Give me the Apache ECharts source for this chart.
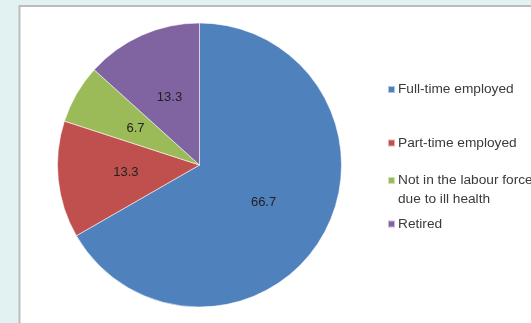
<!DOCTYPE html>
<html>
<head>
<meta charset="utf-8">
<script src="https://cdn.jsdelivr.net/npm/echarts@6/dist/echarts.min.js"></script>
<style>
  html, body { margin: 0; padding: 0; background: #e2f1f2; }
  #chart { width: 531px; height: 323px; }
</style>
</head>
<body>
<div id="chart"></div>
<script>
// Employment status breakdown (percent)
const categories = [
  'Full-time employed',
  'Part-time employed',
  'Not in the labour force due to ill health',
  'Retired'
];
const values = [66.7, 13.3, 6.7, 13.3];
const colors = ['#4f81bd', '#c0504d', '#9bbb59', '#8064a2'];

const FONT = '"Liberation Sans", Arial, sans-serif';
const chart = echarts.init(document.getElementById('chart'), null, { renderer: 'canvas' });

// One legend block per entry so each row sits at its own height.
// The wrapped entry gets a leading blank line so its marker lines up
// with the first line of text rather than the middle of the block.
const legendRows = [
  { top: 82.5, lineHeight: 14 },
  { top: 136, lineHeight: 14 },
  { top: 152, lineHeight: 19, wrap: true },
  { top: 217, lineHeight: 14 }
];
const legends = categories.map((name, i) => {
  const row = legendRows[i];
  return {
    left: 387,
    top: row.top,
    orient: 'vertical',
    padding: 0,
    itemWidth: 7,
    itemHeight: 7,
    itemGap: 0,
    icon: 'rect',
    selectedMode: false,
    data: [name],
    formatter: n => row.wrap ? '\n' + n.replace('labour force ', 'labour force\n') : n,
    textStyle: {
      fontFamily: FONT,
      fontSize: 13.7,
      color: '#3a3a3a',
      lineHeight: row.lineHeight,
      padding: [0, 0, 0, -2]
    }
  };
});

chart.setOption({
  animation: false,
  backgroundColor: '#e2f1f2',
  graphic: [{
    type: 'rect',
    z: -10,
    shape: { x: 19.5, y: 6, width: 530, height: 330 },
    style: { fill: '#ffffff', stroke: '#bcbcbc', lineWidth: 2 }
  }],
  legend: legends,
  series: [{
    type: 'pie',
    center: [199.5, 165],
    radius: [0, 142],
    startAngle: 90,
    clockwise: true,
    data: categories.map((name, i) => ({
      name,
      value: values[i],
      itemStyle: { color: colors[i] }
    })),
    itemStyle: { borderColor: 'rgba(255,255,255,0.55)', borderWidth: 1 },
    label: {
      show: true,
      position: 'inside',
      formatter: p => p.value.toFixed(1),
      fontFamily: FONT,
      fontSize: 13,
      color: '#222222'
    },
    labelLine: { show: false },
    emphasis: { disabled: true }
  }]
});
</script>
</body>
</html>
